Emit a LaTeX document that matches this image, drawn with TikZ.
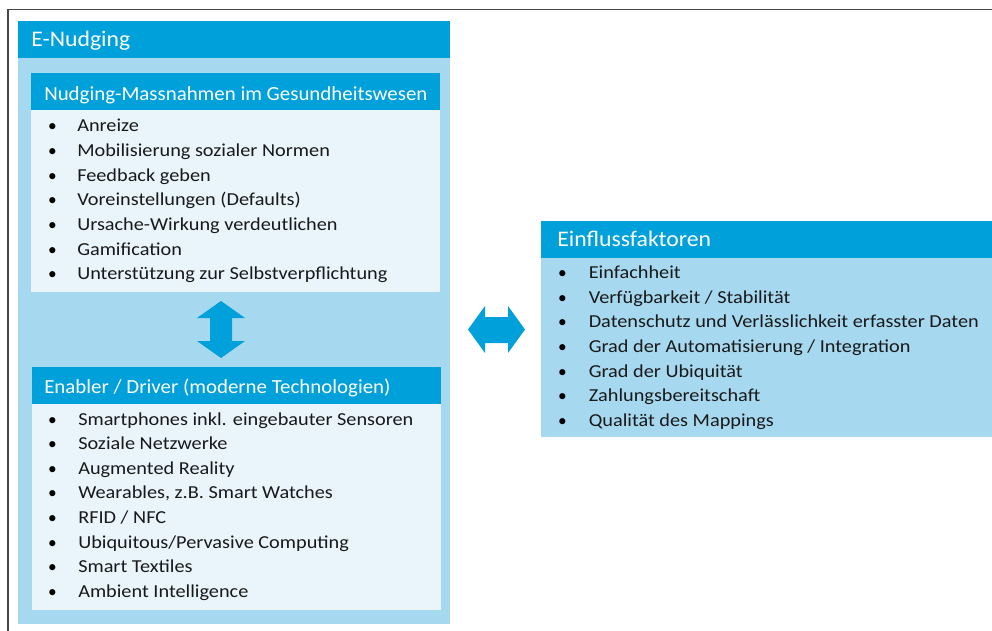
\documentclass[tikz,border=0pt]{standalone}
\usepackage{fontspec}
\setmainfont{Carlito}
\newfontfamily\itemfont[FakeStretch=1.11]{Carlito}
\newfontfamily\hdrfont[FakeStretch=1.045]{Carlito}
\newfontfamily\bigfont[FakeStretch=1.065]{Carlito}
\definecolor{hdr}{RGB}{0,160,218}
\definecolor{lite}{RGB}{166,217,240}
\definecolor{pale}{RGB}{233,245,251}
\definecolor{frame}{RGB}{70,70,70}
\begin{document}
\begin{tikzpicture}[x=0.75pt,y=-0.75pt,
  box/.style={rectangle,inner sep=0,outer sep=0,draw=none,anchor=north west},
  hdrbox/.style={box,fill=hdr},
  litebox/.style={box,fill=lite},
  palebox/.style={box,fill=pale},
  bigtitle/.style={anchor=base west,inner sep=0,text=white,font=\bigfont\fontsize{16.7pt}{18pt}\selectfont},
  subtitle/.style={anchor=base west,inner sep=0,text=white,font=\hdrfont\fontsize{15pt}{17pt}\selectfont},
  item/.style={anchor=base west,inner sep=0,text=black!90,font=\itemfont\fontsize{13.7pt}{16pt}\selectfont},
  bul/.style={anchor=base,inner sep=0,text=black,font=\fontsize{13pt}{16pt}\selectfont},
  arrowfill/.style={fill=hdr}
]
\useasboundingbox (0,0) rectangle (992,631);
\fill[white] (0,0) rectangle (992,631);
\draw[frame,line width=1pt] (8,631) -- (8,9.5) -- (992,9.5);

% outer E-Nudging box
\node[litebox,minimum width=324pt,minimum height=424.5pt] (outerbody) at (18,58) {};
\node[hdrbox,minimum width=324pt,minimum height=27.75pt] (outerhdr) at (18,21) {};
\node[bigtitle] (tE) at (31,46.5) {E-Nudging};

% box 1
\node[palebox,minimum width=306.75pt,minimum height=136.5pt] (b1body) at (31,110) {};
\node[hdrbox,minimum width=306.75pt,minimum height=27.75pt] (b1hdr) at (31,73) {};
\node[subtitle] (t1) at (44,100.5) {Nudging-Massnahmen im Gesundheitswesen};
\foreach \t [count=\i from 0] in {Anreize,Mobilisierung sozialer Normen,Feedback geben,Voreinstellungen (Defaults),Ursache-Wirkung verdeutlichen,Gamification,Unterstützung zur Selbstverpflichtung}{
  \node[bul] (b1bul\i) at (52.5,132+24.6*\i) {\textbullet};
  \node[item] (b1it\i) at (77,132+24.6*\i) {\t};
}

% box 2
\node[palebox,minimum width=306.75pt,minimum height=154.5pt] (b2body) at (32,404) {};
\node[hdrbox,minimum width=306.75pt,minimum height=27.75pt] (b2hdr) at (32,367) {};
\node[subtitle] (t2) at (44,393) {Enabler / Driver (moderne Technologien)};
\foreach \t [count=\i from 0] in {Smartphones inkl. eingebauter Sensoren,Soziale Netzwerke,Augmented Reality,{Wearables, z.B. Smart Watches},RFID / NFC,Ubiquitous/Pervasive Computing,Smart Textiles,Ambient Intelligence}{
  \node[bul] (b2bul\i) at (52.5,425+24.6*\i) {\textbullet};
  \node[item] (b2it\i) at (78,425+24.6*\i) {\t};
}

% right box
\node[litebox,minimum width=338.25pt,minimum height=134.25pt] (rbody) at (541,258) {};
\node[hdrbox,minimum width=338.25pt,minimum height=27.75pt] (rhdr) at (541,221) {};
\node[bigtitle] (t3) at (557,246.7) {Einflussfaktoren};
\foreach \t [count=\i from 0] in {Einfachheit,Verfügbarkeit / Stabilität,Datenschutz und Verlässlichkeit erfasster Daten,Grad der Automatisierung / Integration,Grad der Ubiquität,Zahlungsbereitschaft,Qualität des Mappings}{
  \node[bul] (rbul\i) at (562.5,278.3+24.7*\i) {\textbullet};
  \node[item] (rit\i) at (588.5,278.3+24.7*\i) {\t};
}

% vertical double arrow between box 1 and box 2
\fill[arrowfill] (221,301) -- (245,318) -- (232,318) -- (232,341) -- (245,341) -- (221,358)
  -- (197,341) -- (210,341) -- (210,318) -- (197,318) -- cycle;
% horizontal double arrow between E-Nudging and Einflussfaktoren
\fill[arrowfill] (468,329.5) -- (485,306) -- (485,317) -- (508,317) -- (508,306) -- (525,329.5)
  -- (508,353) -- (508,343) -- (485,343) -- (485,353) -- cycle;
\end{tikzpicture}
\end{document}
